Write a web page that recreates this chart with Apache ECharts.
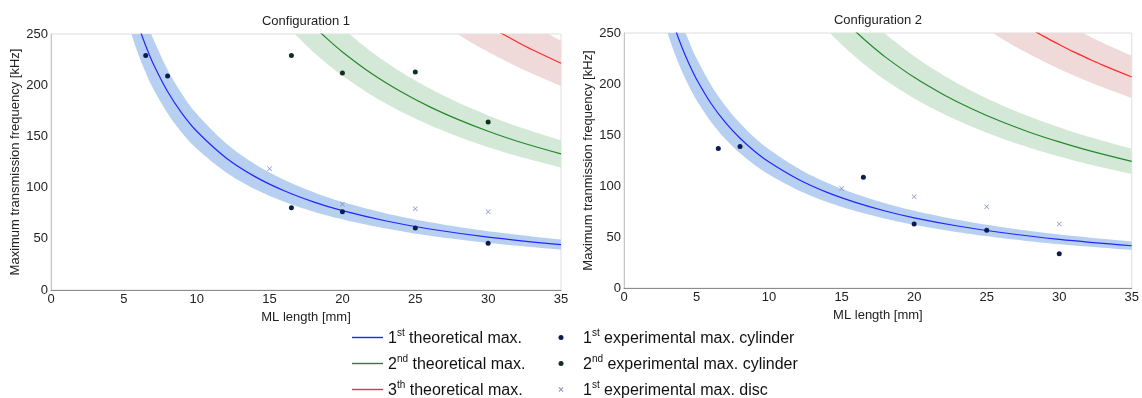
<!DOCTYPE html>
<html><head><meta charset="utf-8">
<script src="https://cdn.jsdelivr.net/npm/echarts@6/dist/echarts.min.js"></script>
<style>html,body{margin:0;padding:0;background:#fff}#c{width:1142px;height:398px}</style>
</head><body><div id="c"></div>
<script>
// ---------- text ----------
const titles = ['Configuration 1', 'Configuration 2'];
const xName = 'ML length [mm]';
const yNames = ['Maximum transmission frequency [kHz]', 'Maximum tranmission frequency [kHz]'];
const theoNames = ['1st theoretical max.', '2nd theoretical max.', '3th theoretical max.'];
const expNames = ['1st experimental max. cylinder', '2nd experimental max. cylinder', '1st experimental max. disc'];

// ---------- Configuration 1: theoretical curves ----------
const c1L1 = [5, 5.5, 6, 6.5, 7, 8, 9, 10, 12, 14, 16, 18, 20, 23, 26, 30, 35];
const c1T1 = [310, 281.8, 258.3, 238.5, 221.4, 193.8, 172.2, 155, 129.2, 110.7, 96.9, 86.1, 77.5, 67.4, 59.6, 51.7, 44.3];
const c1T1Low = [275.9, 250.8, 229.9, 212.3, 197, 172.5, 153.3, 138, 115, 98.5, 86.2, 76.6, 69, 60, 53, 46, 39.4];
const c1T1High = [344, 312.8, 286.7, 264.7, 245.8, 215.1, 191.2, 172, 143.4, 122.9, 107.6, 95.6, 86, 74.8, 66.2, 57.4, 49.2];

const c1L2 = [16, 17, 18, 19, 20, 22, 24, 26, 28, 30, 32, 35];
const c1T2 = [290.6, 273.5, 258.3, 244.7, 232.5, 211.4, 193.8, 178.8, 166.1, 155, 145.3, 132.9];
const c1T2Low = [261.6, 246.2, 232.5, 220.3, 209.3, 190.2, 174.4, 161, 149.5, 139.5, 130.8, 119.6];
const c1T2High = [319.7, 300.9, 284.2, 269.2, 255.8, 232.5, 213.1, 196.7, 182.7, 170.5, 159.8, 146.1];

const c1L3 = [27, 28, 29, 30, 31, 32, 33, 35];
const c1T3 = [287, 276.8, 267.2, 258.3, 250, 242.2, 234.8, 221.4];
const c1T3Low = [258.3, 249.1, 240.5, 232.5, 225, 218, 211.4, 199.3];
const c1T3High = [315.7, 304.5, 294, 284.2, 275, 266.4, 258.3, 243.6];

// ---------- Configuration 2: theoretical curves ----------
const c2L1 = [2.5, 3, 3.5, 4, 4.5, 5, 6, 7, 8, 9, 10, 12, 14, 16, 18, 20, 23, 26, 30, 35];
const c2T1 = [305.1, 277.9, 255.1, 235.8, 219.2, 204.7, 180.9, 162.1, 146.8, 134.1, 123.5, 106.6, 93.7, 83.7, 75.5, 68.8, 60.8, 54.4, 47.7, 41.4];
const c2T1Low = [274.6, 250.1, 229.6, 212.2, 197.3, 184.2, 162.8, 145.9, 132.1, 120.7, 111.2, 95.9, 84.3, 75.3, 68, 61.9, 54.7, 49, 42.9, 37.3];
const c2T1High = [335.6, 305.7, 280.6, 259.4, 241.1, 225.2, 199, 178.3, 161.5, 147.5, 135.9, 117.3, 103.1, 92.1, 83.1, 75.7, 66.9, 59.8, 52.5, 45.5];

const c2L2 = [13, 14, 15, 16, 17, 18, 20, 22, 24, 26, 28, 30, 32, 35];
const c2T2 = [299.2, 281.2, 265.2, 251, 238.2, 226.6, 206.5, 189.8, 175.5, 163.2, 152.5, 143.2, 134.9, 124.1];
const c2T2Low = [269.3, 253.1, 238.7, 225.9, 214.4, 203.9, 185.9, 170.8, 158, 146.9, 137.3, 128.9, 121.4, 111.7];
const c2T2High = [329.1, 309.3, 291.7, 276.1, 262, 249.3, 227.2, 208.7, 193, 179.5, 167.8, 157.5, 148.4, 136.5];

const c2L3 = [25, 26, 27, 28, 29, 30, 31, 32, 33, 35];
const c2T3 = [281.9, 272, 262.8, 254.2, 246.2, 238.7, 231.5, 224.9, 218.5, 206.9];
const c2T3Low = [253.7, 244.8, 236.5, 228.8, 221.6, 214.8, 208.4, 202.4, 196.7, 186.2];
const c2T3High = [310.1, 299.2, 289.1, 279.6, 270.8, 262.6, 254.7, 247.4, 240.4, 227.6];

// ---------- experimental points ----------
const c1Cyl1X = [6.5, 8, 16.5, 20, 25, 30];
const c1Cyl1Y = [229, 209, 80.4, 76.5, 60.5, 45.6];
const c1Cyl2X = [16.5, 20, 25, 30];
const c1Cyl2Y = [229, 212, 213, 164];
const c1DiscX = [15, 20, 25, 30];
const c1DiscY = [118.5, 83.7, 79.4, 76.5];

const c2Cyl1X = [6.5, 8, 16.5, 20, 25, 30];
const c2Cyl1Y = [136.7, 138.7, 108.7, 62.7, 56.5, 33.6];
const c2DiscX = [15, 20, 25, 30];
const c2DiscY = [97.6, 89.4, 79.6, 62.7];

// ---------- styles ----------
const FONT = 'Liberation Sans, Arial, sans-serif';
const lineColors = ['#2424ff', '#24882a', '#ff2a2a'];
const bandColors = ['#b7d0f1', '#d4e8d7', '#efd9d9'];
const cyl1Color = '#0c1c52';
const cyl2Color = '#10301f';
const discColor = '#8a94c6';
const crossPath = 'path://M0,1L1,0L5,4L9,0L10,1L6,5L10,9L9,10L5,6L1,10L0,9L4,5Z';

function pairs(xs, ys) { return xs.map((x, i) => [x, ys[i]]); }

// smooth pixel-space outline (Catmull-Rom) through the projected points
function smoothPts(p) {
  const out = [];
  const n = 10;
  for (let i = 0; i < p.length - 1; i++) {
    const p0 = p[Math.max(i - 1, 0)], p1 = p[i], p2 = p[i + 1], p3 = p[Math.min(i + 2, p.length - 1)];
    for (let s = 0; s < n; s++) {
      const t = s / n, t2 = t * t, t3 = t2 * t;
      const f = (a, b, c, d) => 0.5 * ((2 * b) + (-a + c) * t + (2 * a - 5 * b + 4 * c - d) * t2 + (-a + 3 * b - 3 * c + d) * t3);
      out.push([f(p0[0], p1[0], p2[0], p3[0]), f(p0[1], p1[1], p2[1], p3[1])]);
    }
  }
  out.push(p[p.length - 1]);
  return out;
}

function band(gi, k, L, low, high) {
  return {
    type: 'custom', xAxisIndex: gi, yAxisIndex: gi, silent: true, z: 1,
    data: L.map((x, i) => [x, low[i], high[i]]),
    encode: { x: 0, y: [1, 2] },
    renderItem: function (params, api) {
      if (params.dataIndex !== 0) return null;
      const lo = smoothPts(L.map((x, i) => api.coord([x, low[i]])));
      const hi = smoothPts(L.map((x, i) => api.coord([x, high[i]])));
      const pts = lo.concat(hi.reverse());
      const cs = params.coordSys;
      return {
        type: 'polygon', shape: { points: pts },
        style: { fill: bandColors[k], stroke: null },
        clipPath: { type: 'rect', shape: { x: cs.x, y: cs.y, width: cs.width, height: cs.height } }
      };
    }
  };
}

function curve(gi, k, name, L, mid) {
  return { type: 'line', name: name, xAxisIndex: gi, yAxisIndex: gi,
    data: pairs(L, mid), symbol: 'none', smooth: 0.35,
    lineStyle: { color: lineColors[k], width: 1.2 }, itemStyle: { color: lineColors[k] }, z: 3 };
}

function dots(gi, name, xs, ys, color, symbol, size) {
  return { type: 'scatter', name: name, xAxisIndex: gi, yAxisIndex: gi,
    data: pairs(xs, ys), symbol: symbol, symbolSize: size,
    itemStyle: { color: color, opacity: 1 }, z: 5 };
}

const series = [
  band(0, 0, c1L1, c1T1Low, c1T1High),
  band(0, 1, c1L2, c1T2Low, c1T2High),
  band(0, 2, c1L3, c1T3Low, c1T3High),
  band(1, 0, c2L1, c2T1Low, c2T1High),
  band(1, 1, c2L2, c2T2Low, c2T2High),
  band(1, 2, c2L3, c2T3Low, c2T3High),
  curve(0, 0, theoNames[0], c1L1, c1T1),
  curve(0, 1, theoNames[1], c1L2, c1T2),
  curve(0, 2, theoNames[2], c1L3, c1T3),
  curve(1, 0, theoNames[0], c2L1, c2T1),
  curve(1, 1, theoNames[1], c2L2, c2T2),
  curve(1, 2, theoNames[2], c2L3, c2T3),
  dots(0, expNames[0], c1Cyl1X, c1Cyl1Y, cyl1Color, 'circle', 5),
  dots(0, expNames[1], c1Cyl2X, c1Cyl2Y, cyl2Color, 'circle', 5),
  dots(0, expNames[2], c1DiscX, c1DiscY, discColor, crossPath, 5),
  dots(1, expNames[0], c2Cyl1X, c2Cyl1Y, cyl1Color, 'circle', 5),
  dots(1, expNames[2], c2DiscX, c2DiscY, discColor, crossPath, 5)
];

const grids = [
  { left: 51, top: 34, width: 510, height: 256 },
  { left: 624, top: 33, width: 509, height: 255 }
];

function xAxis(gi) {
  return { type: 'value', gridIndex: gi, min: 0, max: 35, interval: 5,
    name: xName, nameLocation: 'middle', nameGap: 13,
    nameTextStyle: { fontSize: 13, color: '#222', fontFamily: FONT },
    axisLine: { show: true, lineStyle: { color: '#8c8c8c', width: 1 } },
    axisTick: { show: false }, splitLine: { show: false },
    axisLabel: { fontSize: 13, color: '#222', fontFamily: FONT, margin: 3 } };
}
function yAxis(gi) {
  return { type: 'value', gridIndex: gi, min: 0, max: 250, interval: 50,
    name: yNames[gi], nameLocation: 'middle', nameGap: 24,
    nameTextStyle: { fontSize: 13, color: '#222', fontFamily: FONT },
    axisLine: { show: true, lineStyle: { color: '#c4c4c4', width: 1 } },
    axisTick: { show: false }, splitLine: { show: false },
    axisLabel: { fontSize: 13, color: '#222', fontFamily: FONT, margin: 3 } };
}

function legendFmt(name) {
  const m = name.match(/^(\d)(st|nd|th)(.*)$/);
  return '{n|' + m[1] + '}{s|' + m[2] + '}{n|' + m[3] + '}';
}
const legendText = {
  fontSize: 16, color: '#111', fontFamily: FONT,
  rich: {
    n: { fontSize: 16, lineHeight: 19, color: '#111', fontFamily: FONT, verticalAlign: 'bottom' },
    s: { fontSize: 10, lineHeight: 11, color: '#111', fontFamily: FONT, verticalAlign: 'top' }
  }
};
const lineIcon = 'path://M0,0M31,14M0,6.3L31,6.3L31,7.7L0,7.7Z';
const dotIcon = 'path://M0,0M14,14M4.5,7A2.5,2.5,0,1,0,9.5,7A2.5,2.5,0,1,0,4.5,7Z';
const crossIcon = 'path://M0,0M14,14M4.5,5.2L5.2,4.5L7,6.3L8.8,4.5L9.5,5.2L7.7,7L9.5,8.8L8.8,9.5L7,7.7L5.2,9.5L4.5,8.8L6.3,7Z';

const option = {
  animation: false,
  backgroundColor: '#fff',
  title: [
    { text: titles[0], left: 301, top: 10, textAlign: 'center',
      textStyle: { fontSize: 13, fontWeight: 'normal', color: '#222', fontFamily: FONT } },
    { text: titles[1], left: 873, top: 9, textAlign: 'center',
      textStyle: { fontSize: 13, fontWeight: 'normal', color: '#222', fontFamily: FONT } }
  ],
  grid: grids.map(g => Object.assign({ show: true, borderColor: '#dedede', borderWidth: 1, backgroundColor: 'transparent' }, g)),
  xAxis: [xAxis(0), xAxis(1)],
  yAxis: [yAxis(0), yAxis(1)],
  legend: [
    { left: 347, top: 323, height: 150, orient: 'vertical', itemWidth: 31, itemHeight: 14, itemGap: 7,
      selectedMode: false,
      data: theoNames.map(n => ({ name: n, icon: lineIcon })),
      formatter: legendFmt, textStyle: legendText },
    { left: 549, top: 323, height: 150, orient: 'vertical', itemWidth: 34, itemHeight: 14, itemGap: 7,
      selectedMode: false,
      data: [ { name: expNames[0], icon: dotIcon }, { name: expNames[1], icon: dotIcon }, { name: expNames[2], icon: crossIcon } ],
      formatter: legendFmt, textStyle: legendText }
  ],
  series: series
};

echarts.init(document.getElementById('c'), null, { renderer: 'canvas' }).setOption(option);
</script>
</body></html>
